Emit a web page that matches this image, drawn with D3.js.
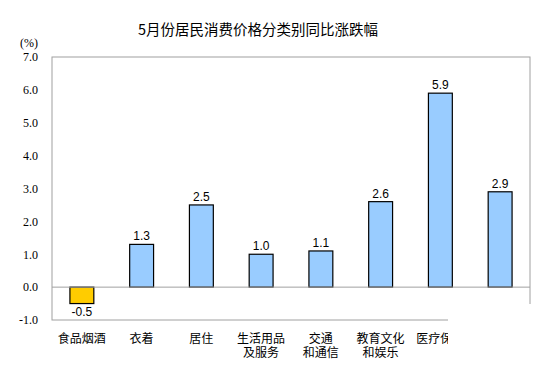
<!DOCTYPE html>
<html>
<head>
<meta charset="utf-8">
<script src="https://cdn.jsdelivr.net/npm/d3@7"></script>
<style>
  body { margin: 0; background: #fff; }
  svg { display: block; }
</style>
</head>
<body>
<div id="chart"></div>
<script>
const categories = ['食品烟酒', '衣着', '居住', '生活用品及服务', '交通和通信', '教育文化和娱乐', '医疗保健', '其他用品和服务'];
const labelLines = [['食品烟酒'], ['衣着'], ['居住'], ['生活用品', '及服务'], ['交通', '和通信'], ['教育文化', '和娱乐'], ['医疗保健'], ['其他用品', '和服务']];
const values = [-0.5, 1.3, 2.5, 1.0, 1.1, 2.6, 5.9, 2.9];
const yTicks = [-1, 0, 1, 2, 3, 4, 5, 6, 7];
const title = '5月份居民消费价格分类别同比涨跌幅';

const width = 553;
const height = 384;
const plot = { left: 52, right: 530, top: 57, bottom: 320 };

const svg = d3.select('#chart')
  .append('svg')
  .attr('width', width)
  .attr('height', height);

const xScale = d3.scaleBand()
  .domain(categories)
  .range([plot.left, plot.right])
  .paddingInner(0.6)
  .paddingOuter(0.3);

const yScale = d3.scaleLinear().domain([-1, 7]).range([plot.bottom, plot.top]);

const fmt = (d) => d.toFixed(1); // plain hyphen for negatives, like the source

// title
svg.append('text')
  .attr('x', 258)
  .attr('y', 35)
  .attr('text-anchor', 'middle')
  .style('font-family', '"Noto Sans CJK SC", sans-serif')
  .style('font-size', '14.5px')
  .attr('fill', '#000')
  .text(title);

svg.append('text')
  .attr('x', 29)
  .attr('y', 47)
  .attr('text-anchor', 'middle')
  .style('font-family', '"Liberation Serif", serif')
  .style('font-size', '12px')
  .text('(%)');

// y axis labels (no tick marks)
const yAxis = d3.axisLeft(yScale)
  .tickValues(yTicks)
  .tickSize(0)
  .tickPadding(14)
  .tickFormat(fmt);

const yg = svg.append('g')
  .attr('transform', `translate(${plot.left}, 0)`)
  .call(yAxis);
yg.select('.domain').remove();
yg.selectAll('text')
  .style('font-family', '"Liberation Serif", serif')
  .style('font-size', '12px')
  .attr('fill', '#000');

const frame = '#a0a0a0';

// bars
svg.append('g')
  .selectAll('rect')
  .data(values)
  .join('rect')
  .attr('x', (d, i) => xScale(categories[i]))
  .attr('width', xScale.bandwidth())
  .attr('y', (d) => yScale(Math.max(0, d)))
  .attr('height', (d) => Math.abs(yScale(d) - yScale(0)))
  .attr('fill', (d) => d < 0 ? '#ffcc00' : '#99ccff')
  .attr('stroke', '#000')
  .attr('stroke-width', 1.2);

// frame and zero line
svg.append('line')
  .attr('x1', plot.left).attr('x2', plot.right)
  .attr('y1', yScale(0)).attr('y2', yScale(0))
  .attr('stroke', frame);
svg.append('rect')
  .attr('x', plot.left).attr('y', plot.top)
  .attr('width', plot.right - plot.left)
  .attr('height', plot.bottom - plot.top)
  .attr('fill', 'none')
  .attr('stroke', frame);

// value labels
svg.append('g')
  .selectAll('text')
  .data(values)
  .join('text')
  .attr('x', (d, i) => xScale(categories[i]) + xScale.bandwidth() / 2)
  .attr('y', (d) => d < 0 ? yScale(d) + 12 : yScale(d) - 4)
  .attr('text-anchor', 'middle')
  .style('font-family', '"Liberation Sans", Arial, sans-serif')
  .style('font-size', '12px')
  .text(fmt);

// category labels, one text per line
const catLines = labelLines.flatMap((lines, i) =>
  lines.map((t, j) => ({ t, j, cat: categories[i] })));

svg.append('g')
  .selectAll('text')
  .data(catLines)
  .join('text')
  .attr('x', (d) => xScale(d.cat) + xScale.bandwidth() / 2)
  .attr('y', (d) => 342.5 + d.j * 14.3)
  .attr('text-anchor', 'middle')
  .style('font-family', '"Noto Sans CJK SC", sans-serif')
  .style('font-size', '12px')
  .text((d) => d.t);

// the source image is cropped in its lower-right corner
svg.append('rect')
  .attr('x', 448).attr('y', 304)
  .attr('width', width - 448).attr('height', height - 304)
  .attr('fill', '#fff');
</script>
</body>
</html>
